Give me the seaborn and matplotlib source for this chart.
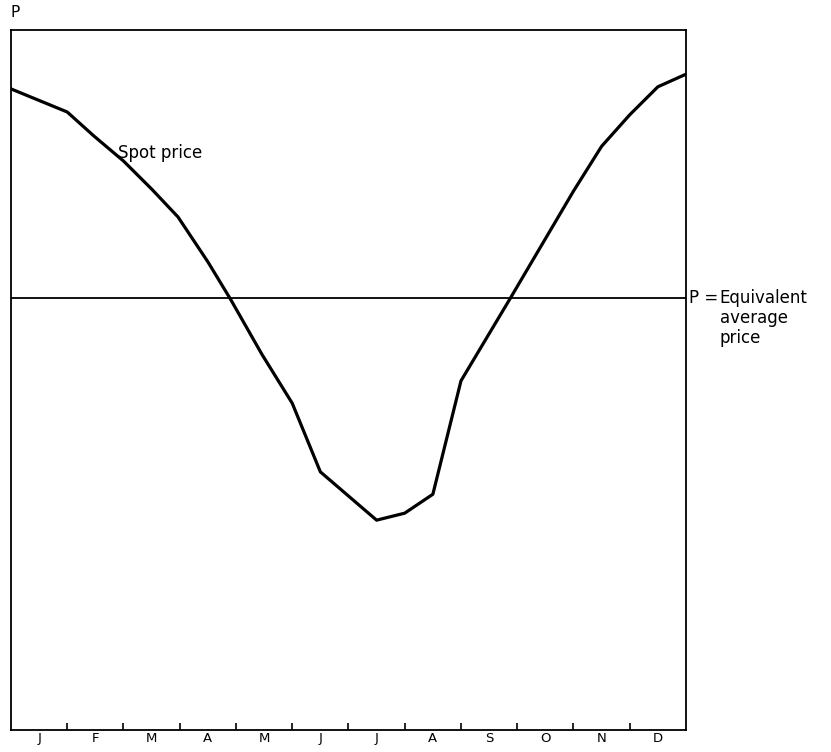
import matplotlib
matplotlib.use("Agg")
import matplotlib.pyplot as plt
import seaborn as sns
import pandas as pd

# months on the axis, month index 0 = start of January
months = ["J", "F", "M", "A", "M", "J", "J", "A", "S", "O", "N", "D"]
# spot price (arbitrary index, 0 = axis bottom)
month_pos = [0.0, 1.0, 1.47, 2.0, 2.5, 2.97, 3.5, 3.9, 4.46, 5.0, 5.5, 6.5,
             7.0, 7.5, 8.0, 8.87, 10.0, 10.5, 11.0, 11.5, 12.0]
spot_price = [91.6, 88.3, 84.9, 81.3, 77.3, 73.3, 66.9, 61.6, 53.7, 46.7, 36.9, 30.0,
              31.0, 33.7, 49.9, 61.6, 77.0, 83.4, 87.9, 91.9, 93.7]
equiv_price = 61.7

sns.set_style("white")
plt.rcParams['font.family'] = ['DejaVu Sans']
plt.rcParams['text.color'] = 'black'
plt.rcParams['xtick.color'] = 'black'

df = pd.DataFrame({"month": month_pos, "price": spot_price})

fig = plt.figure(figsize=(8.31, 7.52), dpi=100)
ax = fig.add_axes([0.0132, 0.029, 0.8123, 0.931])
sns.lineplot(x="month", y="price", data=df, color="black", linewidth=2.3, ax=ax)
ax.axhline(equiv_price, color="black", linewidth=1.3)

ax.set_xlim(0, 12)
ax.set_ylim(0, 100)
ax.set_xlabel("")
ax.set_ylabel("")
ax.set_yticks([])

# ticks at month boundaries, labels at month centres
ax.set_xticks(range(1, 12))
ax.set_xticklabels([])
ax.set_xticks([m + 0.5 for m in range(12)], minor=True)
ax.set_xticklabels(months, minor=True, fontsize=9.5)
ax.tick_params(axis="x", which="major", direction="in", length=5, width=1.2, bottom=True)
ax.tick_params(axis="x", which="minor", length=0, pad=1.5)

for s in ax.spines.values():
    s.set_color("black")
    s.set_linewidth(1.3)

ax.text(0.0, 101.5, "P", fontsize=11, ha="left", va="bottom")
ax.text(1.9, 82.5, "Spot price", fontsize=12, ha="left", va="center")
ax.text(12.05, equiv_price, "P =", fontsize=12, ha="left", va="center", clip_on=False)
ax.text(12.6, equiv_price + 1.3, "Equivalent\naverage\nprice", fontsize=12, ha="left",
        va="top", linespacing=1.15, clip_on=False)

fig.savefig("out.png", dpi=100)
